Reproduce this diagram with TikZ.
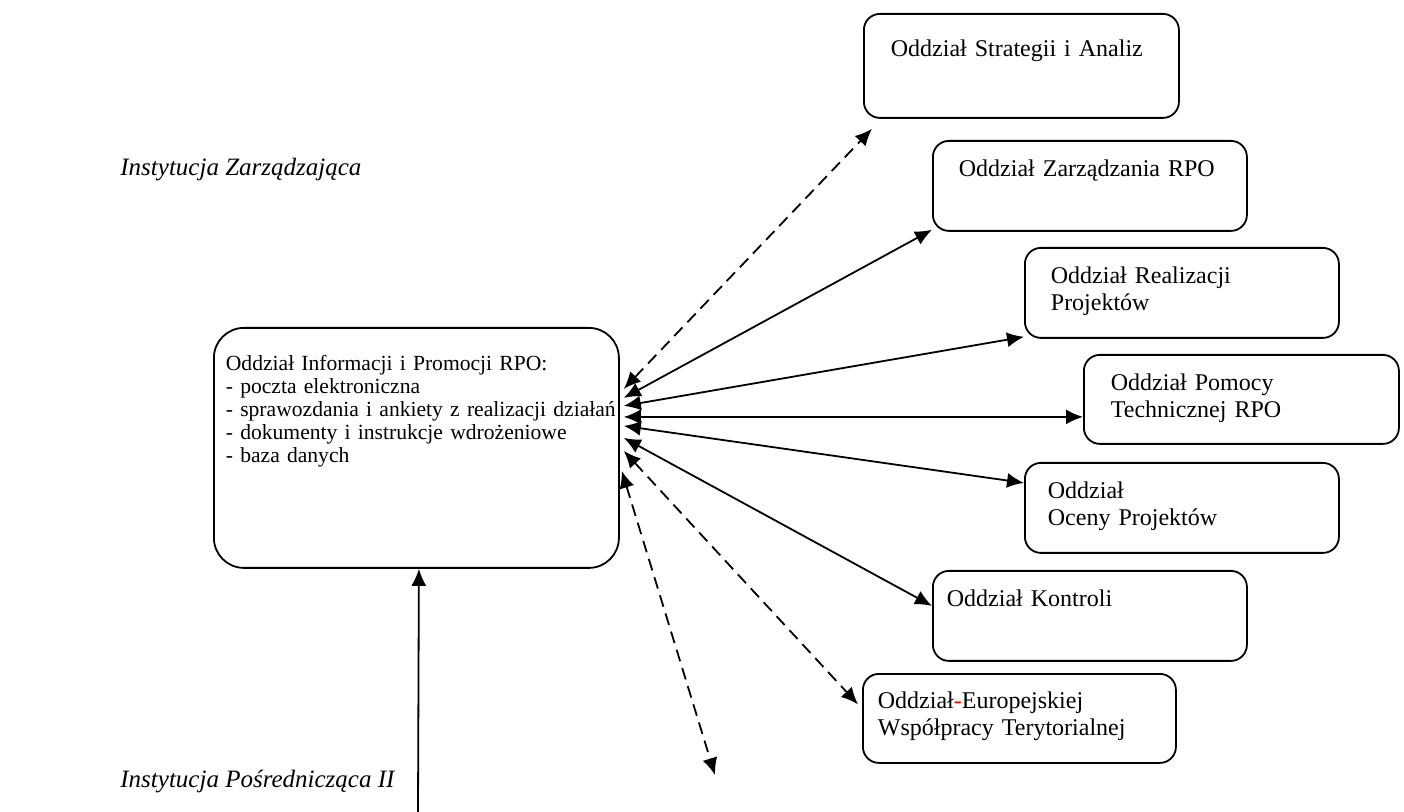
\documentclass[tikz,border=0pt]{standalone}
\usepackage{fontspec}
\setmainfont{Liberation Serif}
\usetikzlibrary{arrows.meta}

\begin{document}
\begin{tikzpicture}[
		x=0.5pt, y=-0.5pt,
		% Define styles for nodes
		oddzial/.style={draw, line width=0.9pt, rounded corners=8pt, anchor=north west, align=left, inner ysep=0pt, font=\fontsize{12}{13.5}\selectfont},
		etykieta/.style={font=\fontsize{12.5}{15}\selectfont\itshape, anchor=base west, inner sep=0pt},
		polaczenie/.style={draw, line width=0.9pt, {Latex[length=8.5pt,width=7.5pt]}-{Latex[length=8.5pt,width=7.5pt]}},
		przerywane/.style={polaczenie, dash pattern=on 6pt off 3.5pt}
	]
	\useasboundingbox (0,0) rectangle (1404,812);

	% Labels
	\node[etykieta] (iz) at (120,176) {Instytucja Zarządzająca};
	\node[etykieta] (ip) at (120,787) {Instytucja Pośrednicząca II};

	% Central node
	\node[oddzial, rounded corners=15pt, font=\fontsize{10.8}{11.5}\selectfont, inner xsep=6pt, text width=190.5pt, text height=21.5pt, text depth=98.5pt] (informacja) at (213,327)
		{Oddział Informacji i Promocji RPO:\\
		- poczta elektroniczna\\
		\mbox{- sprawozdania i ankiety z realizacji działań}\\
		- dokumenty i instrukcje wdrożeniowe\\
		- baza danych};

	% Departments
	\node[oddzial, inner xsep=13.5pt, text width=130.5pt, text height=21.5pt, text depth=30.5pt] (strategia) at (863,13) {Oddział Strategii i Analiz};
	\node[oddzial, inner xsep=13pt, text width=131pt, text height=18pt, text depth=27pt] (zarzadzanie) at (932,140) {Oddział Zarządzania RPO};
	\node[oddzial, inner xsep=13pt, text width=131pt, text height=18pt, text depth=27pt] (realizacja) at (1024,247) {Oddział Realizacji\\Projektów};
	\node[oddzial, inner xsep=13.5pt, text width=130.5pt, text height=18pt, text depth=26.5pt] (pomoc) at (1083,354) {Oddział Pomocy\\Technicznej RPO};
	\node[oddzial, inner xsep=11.5pt, text width=134pt, text height=18pt, text depth=27pt] (ocena) at (1024,462) {Oddział\\Oceny Projektów};
	\node[oddzial, inner xsep=7pt, text width=143pt, text height=18pt, text depth=27pt] (kontrola) at (932,570) {Oddział Kontroli};
	\node[oddzial, inner xsep=7.5pt, text width=141.5pt, text height=17.5pt, text depth=27pt] (ewt) at (862,673) {Oddział{\color{red}-}Europejskiej\\Współpracy Terytorialnej};

	% Free ends
	\coordinate (dol) at (715,775);
	\coordinate (ipdol) at (418,812);

	% Connectors
	\draw[przerywane] ([shift={(2pt,29.5pt)}]informacja.east) -- ([shift={(4.5pt,-5pt)}]strategia.south west);
	\draw[polaczenie] ([shift={(2pt,25pt)}]informacja.east) -- ([yshift=1pt]zarzadzanie.south west);
	\draw[polaczenie] ([shift={(2pt,21pt)}]informacja.east) -- ([yshift=1pt]realizacja.south west);
	\draw[polaczenie] ([shift={(2pt,-8.75pt)}]informacja.east |- pomoc.west) -- ([yshift=-8.75pt]pomoc.west);
	\draw[polaczenie] ([shift={(2pt,11pt)}]informacja.east) -- ([yshift=12.5pt]ocena.west);
	\draw[polaczenie] ([shift={(2pt,5pt)}]informacja.east) -- ([yshift=5pt]kontrola.west);
	\draw[przerywane] ([shift={(2pt,-1.5pt)}]informacja.east) -- ([shift={(-2pt,7pt)}]ewt.west);
	\draw[przerywane] ([shift={(1pt,-11.5pt)}]informacja.east) -- (dol);
	\draw[line width=0.9pt, -{Latex[length=8.5pt,width=7.5pt]}] (ipdol) -- ([xshift=1.25pt]informacja.south);
\end{tikzpicture}
\end{document}
